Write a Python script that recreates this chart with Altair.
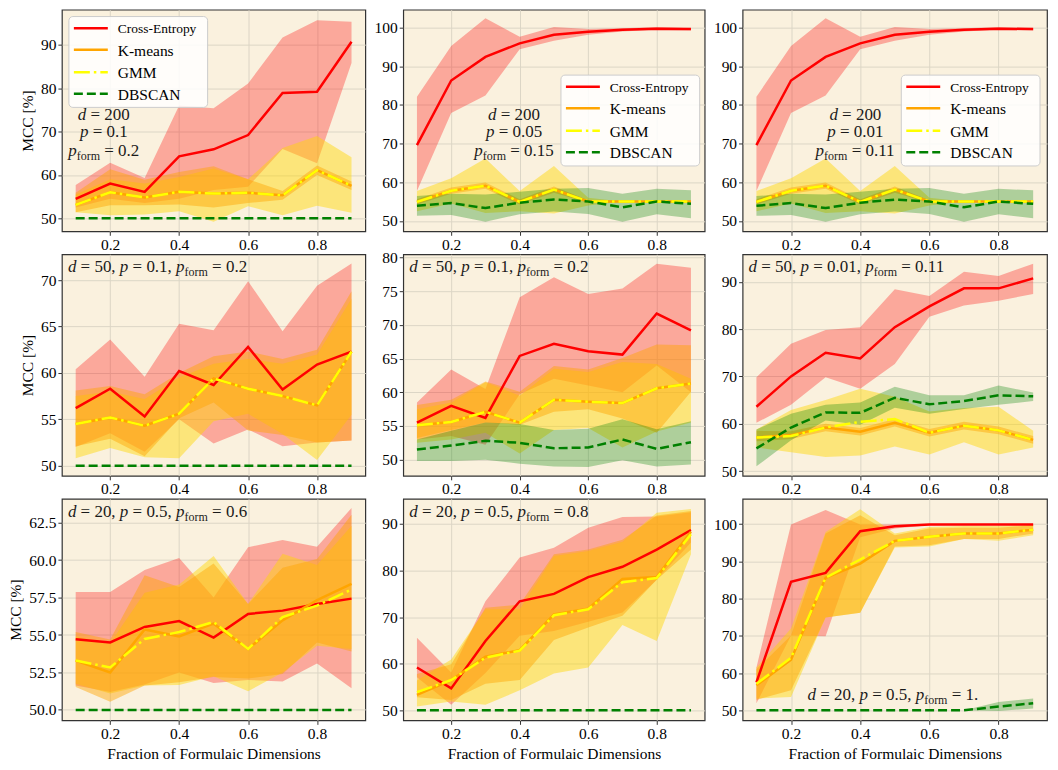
import altair as alt
import pandas as pd

X = [0.1, 0.2, 0.3, 0.4, 0.5, 0.6, 0.7, 0.8, 0.9]
X_TICKS = [0.2, 0.4, 0.6, 0.8]
METHODS = ["Cross-Entropy", "K-means", "GMM", "DBSCAN"]

# ---------------- Panel 1: d=200, p=0.1, p_form=0.2
P1_CE = [54.5, 58.0, 56.1, 64.3, 65.9, 69.2, 78.9, 79.2, 90.7]
P1_CE_LO = [52.5, 54.5, 53.5, 54.5, 56.5, 57.3, 66.0, 62.7, 85.8]
P1_CE_HI = [57.7, 62.8, 59.3, 76.0, 75.4, 81.1, 91.7, 95.7, 95.3]
P1_KM = [53.1, 56.0, 54.8, 56.1, 55.7, 55.9, 55.3, 61.1, 57.5]
P1_KM_LO = [51.4, 53.0, 53.0, 53.2, 52.5, 53.5, 54.3, 60.0, 56.5]
P1_KM_HI = [55.9, 61.3, 58.9, 60.7, 62.0, 59.0, 56.3, 62.2, 58.5]
P1_GMM = [53.1, 56.0, 54.8, 56.1, 55.7, 55.9, 55.3, 61.1, 57.5]
P1_GMM_LO = [51.4, 50.7, 50.9, 51.6, 49.2, 52.8, 50.7, 52.9, 51.3]
P1_GMM_HI = [55.5, 59.0, 58.0, 59.5, 61.5, 59.0, 66.2, 69.0, 64.1]
P1_DB = [50.0, 50.0, 50.0, 50.0, 50.0, 50.0, 50.0, 50.0, 50.0]
P1_DB_LO = [50.0, 50.0, 50.0, 50.0, 50.0, 50.0, 50.0, 50.0, 50.0]
P1_DB_HI = [50.0, 50.0, 50.0, 50.0, 50.0, 50.0, 50.0, 50.0, 50.0]
P1_YDOM = [47.0, 98.1]
P1_YTICKS = [50, 60, 70, 80, 90]

# ---------------- Panel 2: d=200, p=0.05, p_form=0.15
P2_CE = [69.6, 86.3, 92.4, 95.9, 98.1, 98.9, 99.4, 99.7, 99.6]
P2_CE_LO = [57.7, 77.9, 82.4, 94.4, 96.6, 98.1, 99.0, 99.4, 99.2]
P2_CE_HI = [82.1, 95.2, 102.4, 97.6, 100.1, 99.6, 99.8, 100.1, 99.8]
P2_KM = [54.9, 57.8, 59.1, 54.9, 58.1, 55.0, 55.0, 55.0, 55.0]
P2_KM_LO = [54.2, 57.0, 58.3, 54.2, 57.3, 54.7, 55.0, 55.0, 55.0]
P2_KM_HI = [55.6, 58.6, 59.9, 55.6, 58.9, 55.3, 55.0, 55.0, 55.0]
P2_GMM = [54.9, 57.8, 59.1, 54.9, 58.1, 55.0, 55.0, 55.0, 55.0]
P2_GMM_LO = [52.5, 54.5, 52.0, 52.5, 51.9, 54.0, 55.0, 55.0, 55.0]
P2_GMM_HI = [57.7, 61.0, 66.1, 57.7, 64.2, 56.0, 55.0, 55.0, 55.0]
P2_DB = [53.9, 54.6, 53.3, 54.7, 55.5, 55.0, 53.5, 55.0, 54.4]
P2_DB_LO = [51.3, 51.5, 49.8, 51.7, 52.4, 51.8, 49.8, 51.7, 50.7]
P2_DB_HI = [56.4, 57.0, 56.8, 57.5, 58.3, 58.5, 57.0, 58.3, 57.9]
P2_YDOM = [47.3, 104.6]
P2_YTICKS = [50, 60, 70, 80, 90, 100]

# ---------------- Panel 3: d=200, p=0.01, p_form=0.11
P3_CE = [69.6, 86.3, 92.4, 95.9, 98.1, 98.9, 99.4, 99.7, 99.6]
P3_CE_LO = [57.7, 77.9, 82.4, 94.4, 96.6, 98.1, 99.0, 99.4, 99.2]
P3_CE_HI = [82.1, 95.2, 102.4, 97.6, 100.1, 99.6, 99.8, 100.1, 99.8]
P3_KM = [54.9, 57.8, 59.1, 54.9, 58.1, 55.0, 55.0, 55.0, 55.0]
P3_KM_LO = [54.2, 57.0, 58.3, 54.2, 57.3, 54.7, 55.0, 55.0, 55.0]
P3_KM_HI = [55.6, 58.6, 59.9, 55.6, 58.9, 55.3, 55.0, 55.0, 55.0]
P3_GMM = [54.9, 57.8, 59.1, 54.9, 58.1, 55.0, 55.0, 55.0, 55.0]
P3_GMM_LO = [52.5, 54.5, 52.0, 52.5, 51.9, 54.0, 55.0, 55.0, 55.0]
P3_GMM_HI = [57.7, 61.0, 66.1, 57.7, 64.2, 56.0, 55.0, 55.0, 55.0]
P3_DB = [53.9, 54.6, 53.3, 54.7, 55.5, 55.0, 53.5, 55.0, 54.4]
P3_DB_LO = [51.3, 51.5, 49.8, 51.7, 52.4, 51.8, 49.8, 51.7, 50.7]
P3_DB_HI = [56.4, 57.0, 56.8, 57.5, 58.3, 58.5, 57.0, 58.3, 57.9]
P3_YDOM = [47.3, 104.6]
P3_YTICKS = [50, 60, 70, 80, 90, 100]

# ---------------- Panel 4: d=50, p=0.1, p_form=0.2
P4_CE = [56.2, 58.3, 55.3, 60.2, 58.7, 62.8, 58.2, 60.9, 62.3]
P4_CE_LO = [52.0, 53.5, 51.5, 55.0, 52.4, 53.9, 52.1, 52.5, 52.7]
P4_CE_HI = [60.4, 63.6, 59.6, 65.3, 64.6, 69.9, 64.5, 69.4, 71.8]
P4_KM = [54.5, 55.2, 54.3, 55.6, 59.4, 58.3, 57.5, 56.5, 62.3]
P4_KM_LO = [52.1, 52.9, 51.0, 55.1, 56.8, 53.8, 53.3, 52.5, 52.7]
P4_KM_HI = [58.1, 58.6, 57.7, 60.0, 61.8, 62.3, 61.5, 62.5, 68.8]
P4_GMM = [54.5, 55.2, 54.3, 55.6, 59.4, 58.3, 57.5, 56.5, 62.3]
P4_GMM_LO = [50.8, 51.9, 50.9, 50.8, 54.8, 55.6, 53.4, 50.6, 55.5]
P4_GMM_HI = [57.5, 58.0, 57.2, 59.5, 61.0, 61.5, 61.0, 62.0, 68.0]
P4_DB = [50.0, 50.0, 50.0, 50.0, 50.0, 50.0, 50.0, 50.0, 50.0]
P4_DB_LO = [50.0, 50.0, 50.0, 50.0, 50.0, 50.0, 50.0, 50.0, 50.0]
P4_DB_HI = [50.0, 50.0, 50.0, 50.0, 50.0, 50.0, 50.0, 50.0, 50.0]
P4_YDOM = [48.9, 72.8]
P4_YTICKS = [50, 55, 60, 65, 70]

# ---------------- Panel 5: d=50, p=0.1, p_form=0.2
P5_CE = [55.5, 58.0, 56.2, 65.4, 67.2, 66.1, 65.6, 71.7, 69.2]
P5_CE_LO = [53.0, 53.5, 52.2, 59.7, 62.0, 61.0, 60.0, 64.0, 60.0]
P5_CE_HI = [58.5, 63.4, 60.5, 74.1, 77.1, 74.6, 75.4, 79.1, 78.5]
P5_KM = [55.1, 55.6, 57.1, 55.5, 58.9, 58.6, 58.4, 60.6, 61.3]
P5_KM_LO = [53.2, 54.4, 55.5, 55.2, 57.1, 57.5, 56.1, 54.0, 60.1]
P5_KM_HI = [58.1, 58.9, 61.6, 60.1, 63.9, 63.4, 65.1, 67.1, 67.0]
P5_GMM = [55.1, 55.6, 57.1, 55.5, 58.9, 58.6, 58.4, 60.6, 61.3]
P5_GMM_LO = [52.5, 53.0, 54.0, 50.9, 54.4, 54.7, 51.8, 54.2, 55.5]
P5_GMM_HI = [57.5, 58.5, 61.5, 59.5, 63.5, 63.0, 64.5, 64.2, 62.0]
P5_DB = [51.5, 52.1, 52.8, 52.5, 51.7, 51.8, 53.0, 51.6, 52.6]
P5_DB_LO = [49.8, 49.8, 50.0, 49.4, 49.0, 48.9, 49.9, 49.0, 49.3]
P5_DB_HI = [53.0, 54.3, 55.5, 55.3, 54.4, 54.6, 56.0, 54.5, 55.7]
P5_YDOM = [47.6, 80.5]
P5_YTICKS = [50, 55, 60, 65, 70, 75, 80]

# ---------------- Panel 6: d=50, p=0.01, p_form=0.11
P6_CE = [63.6, 70.0, 75.0, 73.8, 80.4, 84.8, 88.6, 88.6, 90.7]
P6_CE_LO = [60.2, 64.0, 69.8, 67.4, 72.6, 82.6, 85.0, 86.0, 87.4]
P6_CE_HI = [69.8, 76.9, 79.8, 80.4, 88.4, 87.0, 92.1, 91.2, 93.8]
P6_KM = [57.1, 57.6, 59.2, 58.3, 60.2, 58.1, 59.6, 58.6, 56.6]
P6_KM_LO = [56.3, 56.8, 58.4, 57.5, 59.4, 57.3, 58.8, 57.8, 55.8]
P6_KM_HI = [58.5, 58.4, 60.0, 59.1, 61.0, 58.9, 60.4, 59.4, 57.4]
P6_GMM = [57.1, 57.4, 59.2, 60.4, 61.0, 58.1, 59.6, 58.6, 56.6]
P6_GMM_LO = [55.0, 54.0, 53.0, 53.3, 55.2, 53.5, 56.1, 53.5, 55.0]
P6_GMM_HI = [58.8, 62.9, 65.0, 67.4, 65.7, 62.6, 63.3, 63.6, 58.5]
P6_DB = [54.8, 59.2, 62.4, 62.3, 65.5, 64.1, 64.8, 66.0, 65.8]
P6_DB_LO = [51.0, 56.5, 60.7, 59.8, 63.4, 62.1, 63.1, 64.0, 64.8]
P6_DB_HI = [58.8, 62.1, 64.0, 64.5, 67.8, 66.0, 66.0, 68.1, 66.6]
P6_YDOM = [49.0, 95.8]
P6_YTICKS = [50, 60, 70, 80, 90]

# ---------------- Panel 7: d=20, p=0.5, p_form=0.6
P7_CE = [54.72, 54.5, 55.54, 55.93, 54.83, 56.41, 56.63, 57.07, 57.43]
P7_CE_LO = [51.63, 51.2, 51.7, 52.5, 51.8, 52.0, 51.9, 53.1, 51.45]
P7_CE_HI = [57.87, 57.87, 59.35, 60.15, 57.5, 60.87, 61.35, 60.9, 63.48]
P7_KM = [53.3, 52.5, 55.37, 54.9, 55.76, 54.07, 55.98, 57.33, 58.41]
P7_KM_LO = [51.52, 50.54, 51.63, 51.85, 52.2, 52.1, 52.4, 54.5, 53.9]
P7_KM_HI = [55.2, 54.7, 59.0, 58.2, 59.78, 57.07, 59.5, 60.07, 63.04]
P7_GMM = [53.3, 52.83, 54.74, 55.2, 55.87, 54.07, 56.2, 56.96, 58.04]
P7_GMM_LO = [51.74, 51.09, 51.63, 51.67, 52.24, 51.24, 52.5, 54.28, 54.07]
P7_GMM_HI = [54.9, 54.46, 57.83, 58.37, 60.28, 57.07, 60.43, 59.67, 62.3]
P7_DB = [50.0, 50.0, 50.0, 50.0, 50.0, 50.0, 50.0, 50.0, 50.0]
P7_DB_LO = [50.0, 50.0, 50.0, 50.0, 50.0, 50.0, 50.0, 50.0, 50.0]
P7_DB_HI = [50.0, 50.0, 50.0, 50.0, 50.0, 50.0, 50.0, 50.0, 50.0]
P7_YDOM = [49.3, 64.1]
P7_YTICKS = [50.0, 52.5, 55.0, 57.5, 60.0, 62.5]

# ---------------- Panel 8: d=20, p=0.5, p_form=0.8
P8_CE = [59.2, 54.7, 64.9, 73.4, 75.0, 78.6, 80.8, 84.5, 88.7]
P8_CE_LO = [57.1, 51.2, 58.0, 66.0, 67.0, 69.0, 71.0, 78.0, 86.0]
P8_CE_HI = [65.6, 58.1, 73.4, 82.8, 84.9, 89.2, 91.5, 91.6, 92.5]
P8_KM = [53.3, 56.5, 61.5, 62.9, 70.6, 71.8, 78.2, 78.6, 88.3]
P8_KM_LO = [52.8, 52.2, 55.7, 56.5, 65.1, 67.8, 70.3, 78.0, 84.5]
P8_KM_HI = [57.8, 59.9, 72.0, 72.7, 83.5, 84.5, 86.6, 91.8, 92.8]
P8_GMM = [53.9, 56.5, 61.3, 62.8, 70.4, 71.7, 77.5, 78.4, 87.8]
P8_GMM_LO = [50.8, 51.9, 51.2, 54.3, 57.9, 59.2, 68.3, 64.9, 83.5]
P8_GMM_HI = [56.4, 60.9, 71.7, 71.7, 83.1, 84.2, 86.2, 92.4, 93.2]
P8_DB = [50.0, 50.0, 50.0, 50.0, 50.0, 50.0, 50.0, 50.0, 50.0]
P8_DB_LO = [50.0, 50.0, 50.0, 50.0, 50.0, 50.0, 50.0, 50.0, 50.0]
P8_DB_HI = [50.0, 50.0, 50.0, 50.0, 50.0, 50.0, 50.0, 50.0, 50.0]
P8_YDOM = [47.85, 95.4]
P8_YTICKS = [50, 60, 70, 80, 90]

# ---------------- Panel 9: d=20, p=0.5, p_form=1.
P9_CE = [57.5, 84.5, 86.9, 98.1, 99.4, 99.9, 99.9, 99.9, 99.9]
P9_CE_LO = [51.9, 70.1, 69.9, 96.5, 98.8, 99.7, 99.8, 99.8, 99.8]
P9_CE_HI = [61.5, 99.9, 103.8, 99.9, 99.9, 100.0, 100.0, 100.0, 100.0]
P9_KM = [56.7, 63.6, 85.6, 89.4, 95.5, 96.6, 97.5, 97.5, 98.5]
P9_KM_LO = [52.8, 55.4, 74.9, 76.2, 94.0, 94.3, 96.0, 96.0, 97.5]
P9_KM_HI = [61.0, 70.1, 97.5, 102.4, 97.0, 98.8, 99.0, 99.0, 99.7]
P9_GMM = [57.1, 64.1, 85.6, 90.5, 95.5, 96.6, 97.5, 97.5, 98.5]
P9_GMM_LO = [53.2, 53.6, 74.9, 76.2, 93.75, 94.0, 96.0, 95.5, 97.0]
P9_GMM_HI = [61.5, 72.0, 97.9, 104.0, 97.5, 99.2, 99.5, 99.5, 99.8]
P9_DB = [50.0, 50.0, 50.0, 50.0, 50.0, 50.0, 50.0, 51.0, 51.9]
P9_DB_LO = [50.0, 50.0, 50.0, 50.0, 50.0, 50.0, 50.0, 49.8, 50.5]
P9_DB_HI = [50.0, 50.0, 50.0, 50.0, 50.0, 50.0, 50.0, 52.2, 53.2]
P9_YDOM = [47.3, 106.8]
P9_YTICKS = [50, 60, 70, 80, 90, 100]

# annotation labels
ANN_D = ["200", "200", "200", "50", "50", "50", "20", "20", "20"]
ANN_P = ["0.1", "0.05", "0.01", "0.1", "0.1", "0.01", "0.5", "0.5", "0.5"]
ANN_PF = ["0.2", "0.15", "0.11", "0.2", "0.2", "0.11", "0.6", "0.8", "1."]

X_TITLE = "Fraction of Formulaic Dimensions"
Y_TITLE = "MCC [%]"

# ---------------------------------------------------------------- styling
FONT = "Liberation Serif, Times New Roman, Times, serif"
BG = "#faf1de"
STYLE = {
    "Cross-Entropy": dict(line="#ff0000", dash=None, band="#ff0000", op=0.3),
    "K-means": dict(line="#ffa500", dash=None, band="#ffa500", op=0.45),
    "GMM": dict(line="#ffff00", dash=[16, 4, 2.5, 4], band="#ffd700", op=0.45),
    "DBSCAN": dict(line="#008000", dash=[9, 4], band="#008000", op=0.3),
}
BAND_ORDER = ["Cross-Entropy", "GMM", "K-means", "DBSCAN"]
COL_W = [304, 302, 305]
ROW_H = 222
REF_H = 227.0

ONE = pd.DataFrame({"k": [0]})

PANELS = [
    dict(s=[(P1_CE, P1_CE_LO, P1_CE_HI), (P1_KM, P1_KM_LO, P1_KM_HI), (P1_GMM, P1_GMM_LO, P1_GMM_HI), (P1_DB, P1_DB_LO, P1_DB_HI)], dom=P1_YDOM, ticks=P1_YTICKS),
    dict(s=[(P2_CE, P2_CE_LO, P2_CE_HI), (P2_KM, P2_KM_LO, P2_KM_HI), (P2_GMM, P2_GMM_LO, P2_GMM_HI), (P2_DB, P2_DB_LO, P2_DB_HI)], dom=P2_YDOM, ticks=P2_YTICKS),
    dict(s=[(P3_CE, P3_CE_LO, P3_CE_HI), (P3_KM, P3_KM_LO, P3_KM_HI), (P3_GMM, P3_GMM_LO, P3_GMM_HI), (P3_DB, P3_DB_LO, P3_DB_HI)], dom=P3_YDOM, ticks=P3_YTICKS),
    dict(s=[(P4_CE, P4_CE_LO, P4_CE_HI), (P4_KM, P4_KM_LO, P4_KM_HI), (P4_GMM, P4_GMM_LO, P4_GMM_HI), (P4_DB, P4_DB_LO, P4_DB_HI)], dom=P4_YDOM, ticks=P4_YTICKS),
    dict(s=[(P5_CE, P5_CE_LO, P5_CE_HI), (P5_KM, P5_KM_LO, P5_KM_HI), (P5_GMM, P5_GMM_LO, P5_GMM_HI), (P5_DB, P5_DB_LO, P5_DB_HI)], dom=P5_YDOM, ticks=P5_YTICKS),
    dict(s=[(P6_CE, P6_CE_LO, P6_CE_HI), (P6_KM, P6_KM_LO, P6_KM_HI), (P6_GMM, P6_GMM_LO, P6_GMM_HI), (P6_DB, P6_DB_LO, P6_DB_HI)], dom=P6_YDOM, ticks=P6_YTICKS),
    dict(s=[(P7_CE, P7_CE_LO, P7_CE_HI), (P7_KM, P7_KM_LO, P7_KM_HI), (P7_GMM, P7_GMM_LO, P7_GMM_HI), (P7_DB, P7_DB_LO, P7_DB_HI)], dom=P7_YDOM, ticks=P7_YTICKS),
    dict(s=[(P8_CE, P8_CE_LO, P8_CE_HI), (P8_KM, P8_KM_LO, P8_KM_HI), (P8_GMM, P8_GMM_LO, P8_GMM_HI), (P8_DB, P8_DB_LO, P8_DB_HI)], dom=P8_YDOM, ticks=P8_YTICKS),
    dict(s=[(P9_CE, P9_CE_LO, P9_CE_HI), (P9_KM, P9_KM_LO, P9_KM_HI), (P9_GMM, P9_GMM_LO, P9_GMM_HI), (P9_DB, P9_DB_LO, P9_DB_HI)], dom=P9_YDOM, ticks=P9_YTICKS),
]

LEGEND_POS = {0: (7, 7), 1: (158, 67), 2: (159, 67)}
CENTER_ANN = {0: (42, 112.7), 1: (111, 112.7), 2: (113, 112.7)}
LINE_ANN = {3: (6, 18), 4: (6, 18), 5: (6, 18), 6: (6, 18), 7: (6, 18), 8: (65, 206)}

W = {c: 0.5 for c in "0123456789dpo"}
W.update({".": 0.25, ",": 0.25, " ": 0.25, "=": 0.564, "f": 0.333, "r": 0.333, "m": 0.778})
SIZES = {"it": 17, "rm": 17, "sub": 12}


def seg_w(t, size):
    return sum(W.get(c, 0.5) for c in t) * size


def text_layers(parts, x, y, center=False):
    total = sum(seg_w(t, SIZES[k]) for t, k in parts)
    cx = x - total / 2 if center else x
    out = []
    for t, k in parts:
        size = SIZES[k]
        lead = len(t) - len(t.lstrip(" "))
        xx = cx + lead * 0.25 * size
        out.append(
            alt.Chart(ONE).mark_text(
                align="left", baseline="alphabetic", font=FONT, fontSize=size,
                fontStyle="italic" if k == "it" else "normal", color="#1a1a1a",
                dy=4 if k == "sub" else 0,
            ).encode(x=alt.value(xx), y=alt.value(y), text=alt.value(t.strip(" ")))
        )
        cx += seg_w(t, size)
    return out


def legend_layers(x0, y0):
    out = [
        alt.Chart(ONE).mark_rect(fill="white", fillOpacity=0.85, stroke="#cccccc",
                                 strokeWidth=1, cornerRadius=4).encode(
            x=alt.value(x0), x2=alt.value(x0 + 139), y=alt.value(y0), y2=alt.value(y0 + 91))
    ]
    rows = [11.7, 33.3, 55.7, 77.3]
    for m, dy in zip(METHODS, rows):
        st = STYLE[m]
        kw = dict(color=st["line"], strokeWidth=2.5)
        if st["dash"]:
            kw["strokeDash"] = st["dash"]
        out.append(alt.Chart(ONE).mark_rule(**kw).encode(
            x=alt.value(x0 + 5), x2=alt.value(x0 + 39), y=alt.value(y0 + dy)))
        out.append(alt.Chart(ONE).mark_text(
            align="left", baseline="middle", font=FONT,
            fontSize=13.5 if m == "Cross-Entropy" else 15.5, color="black").encode(
            x=alt.value(x0 + 49), y=alt.value(y0 + dy + 1), text=alt.value(m)))
    return out


charts = []
for i, pan in enumerate(PANELS):
    row, col = divmod(i, 3)
    series = dict(zip(METHODS, pan["s"]))
    rows = []
    for m in METHODS:
        mean, lo, hi = series[m]
        for xv, a, b, c in zip(X, mean, lo, hi):
            rows.append({"x": xv, "method": m, "mean": a, "lo": b, "hi": c})
    df = pd.DataFrame(rows)

    xaxis = alt.Axis(values=X_TICKS, format=".1f", title=X_TITLE if row == 2 else None)
    yaxis = alt.Axis(values=pan["ticks"], format=".1f" if i == 6 else "d",
                     title=Y_TITLE if col == 0 else None)
    xs = alt.Scale(domain=[0.06, 0.94], nice=False, zero=False)
    ys = alt.Scale(domain=pan["dom"], nice=False, zero=False)

    layers = []
    for m in BAND_ORDER:
        st = STYLE[m]
        layers.append(
            alt.Chart(df).transform_filter(alt.datum.method == m)
            .mark_area(color=st["band"], opacity=st["op"], clip=True)
            .encode(x=alt.X("x:Q", scale=xs, axis=xaxis),
                    y=alt.Y("lo:Q", scale=ys, axis=yaxis), y2=alt.Y2("hi:Q"))
        )
    for m in METHODS:
        st = STYLE[m]
        kw = dict(color=st["line"], strokeWidth=2.5, clip=True)
        if st["dash"]:
            kw["strokeDash"] = st["dash"]
        layers.append(
            alt.Chart(df).transform_filter(alt.datum.method == m)
            .mark_line(**kw)
            .encode(x=alt.X("x:Q", scale=xs, axis=xaxis),
                    y=alt.Y("mean:Q", scale=ys, axis=yaxis))
        )

    sy = ROW_H / REF_H
    if i in LEGEND_POS:
        lx, ly = LEGEND_POS[i]
        layers += legend_layers(lx, ly * sy)
    if i in CENTER_ANN:
        cx, by = CENTER_ANN[i]
        by = by * sy
        layers += text_layers([("d", "it"), (" = " + ANN_D[i], "rm")], cx, by, center=True)
        layers += text_layers([("p", "it"), (" = " + ANN_P[i], "rm")], cx, by + 17.5, center=True)
        layers += text_layers([("p", "it"), ("form", "sub"), (" = " + ANN_PF[i], "rm")], cx, by + 36, center=True)
    if i in LINE_ANN:
        lx, by = LINE_ANN[i]
        parts = [("d", "it"), (" = " + ANN_D[i] + ", ", "rm"), ("p", "it"),
                 (" = " + ANN_P[i] + ", ", "rm"), ("p", "it"), ("form", "sub"),
                 (" = " + ANN_PF[i], "rm")]
        layers += text_layers(parts, lx, by * sy if i == 8 else by)

    charts.append(alt.layer(*layers).properties(width=COL_W[col], height=ROW_H))

chart = (
    alt.concat(*charts, columns=3, spacing={"row": 23, "column": 38}, bounds="flush")
    .properties(padding={"left": 0, "top": 0, "right": 2, "bottom": 0})
    .configure_view(fill=BG, stroke="#333333", strokeWidth=1.2)
    .configure_axis(
        labelFont=FONT, labelFontSize=15.5, labelColor="black",
        titleFont=FONT, titleFontSize=15.5, titleFontWeight="normal", titleColor="black",
        gridColor="#dcd6c6", gridWidth=1, domain=False,
        tickColor="#333333", tickSize=4, tickWidth=1, labelPadding=2, titlePadding=5,
    )
    .configure_text(font=FONT)
)

chart.save("out.html", embed_options={"renderer": "svg", "actions": False})
